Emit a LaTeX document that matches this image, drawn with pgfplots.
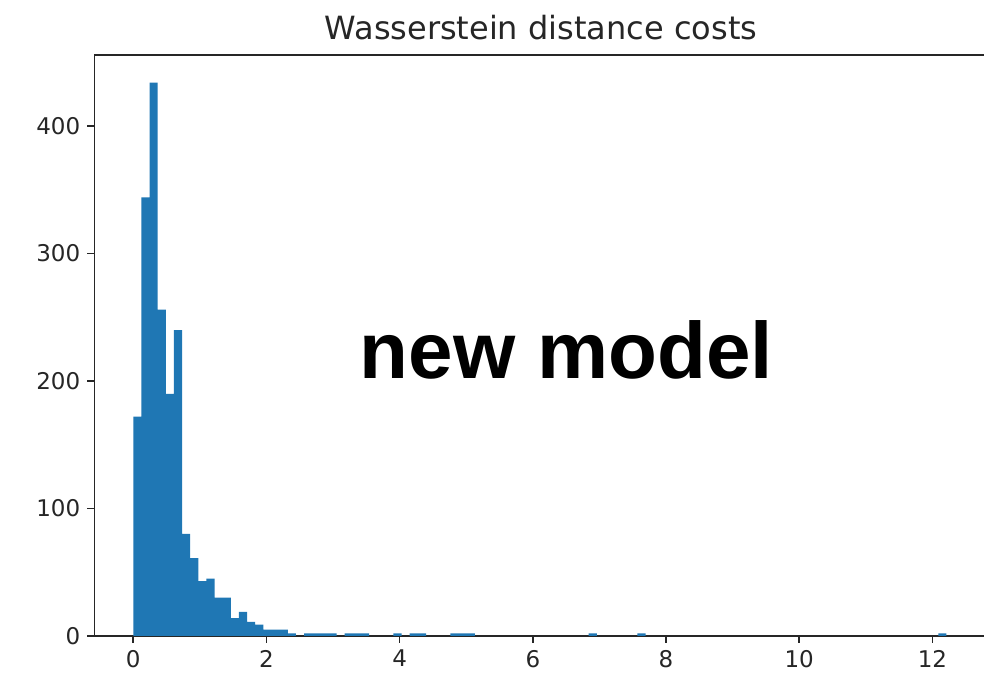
\documentclass[border=0pt]{standalone}
\usepackage{pgfplots}
\pgfplotsset{compat=1.18}
\usepackage{fontspec}
\setmainfont{DejaVu Sans}
\newfontfamily\arialfont{Liberation Sans}
\definecolor{mplblue}{HTML}{1F77B4}
\begin{document}
\begin{tikzpicture}
\begin{axis}[
  name=ax,
  scale only axis,
  width=446.7pt, height=290.5pt,
  xmin=-0.585, xmax=12.83,
  ymin=0, ymax=455.7,
  xtick={0,2,4,6,8,10,12},
  ytick={0,100,200,300,400},
  tick align=outside,
  tick pos=left,
  major tick length=3.5pt,
  axis line style={black!85, line width=0.8pt},
  every tick/.style={black!85, line width=0.8pt},
  tick label style={font=\fontsize{11.5}{13}\selectfont, text=black!85},
  /pgf/number format/assume math mode=true,
  title={Wasserstein distance costs},
  title style={font=\fontsize{16}{19}\selectfont, text=black!85, yshift=-2pt},
  ybar, bar width=0.1221, bar shift=0pt,
  clip=false,
]
\addplot[fill=mplblue, draw=none] coordinates {
(0.0611,172) (0.1832,344) (0.3053,434) (0.4274,256) (0.5495,190) (0.6716,240)
(0.7937,80) (0.9158,61) (1.0379,43) (1.1600,45) (1.2821,30) (1.4042,30)
(1.5263,14) (1.6484,19) (1.7705,11) (1.8926,9) (2.0147,5) (2.1368,5)
(2.2589,5) (2.3810,2) (2.6252,2) (2.7473,2) (2.8694,2) (2.9915,2)
(3.2357,2) (3.3578,2) (3.4799,2) (3.9683,2) (4.2125,2) (4.3346,2)
(4.8230,2) (4.9451,2) (5.0672,2) (6.8987,2) (7.6313,2) (12.1490,2)
};
\node[anchor=base, font=\arialfont\bfseries\fontsize{40}{48}\selectfont, text=black] at (axis cs:6.505,202) {new model};
\end{axis}
\pgfresetboundingbox
\path[use as bounding box] ([xshift=-47.15pt,yshift=-24pt]ax.south west) rectangle ++(492pt,342pt);
\end{tikzpicture}
\end{document}
